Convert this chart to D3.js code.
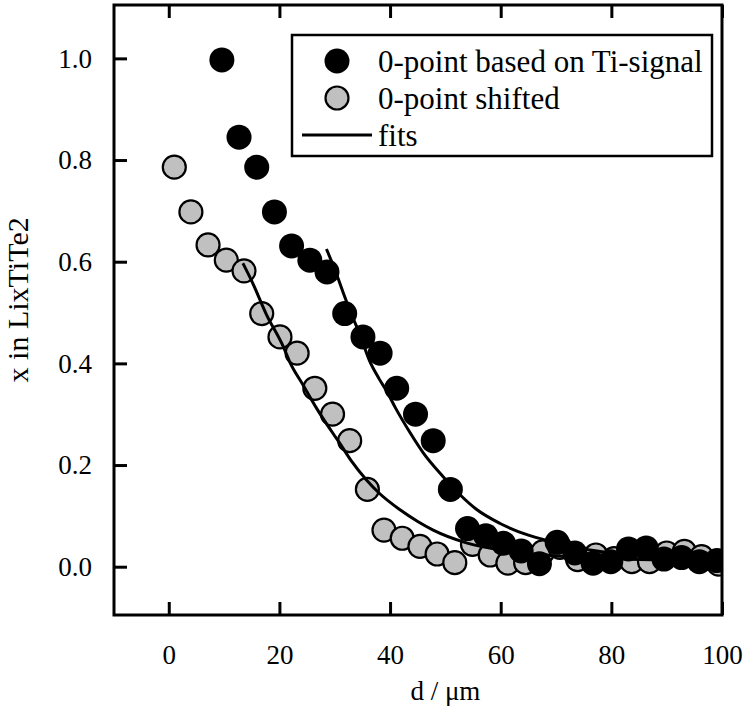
<!DOCTYPE html>
<html>
<head>
<meta charset="utf-8">
<script src="https://cdn.jsdelivr.net/npm/d3@7"></script>
<style>
  body { margin: 0; background: #fff; }
  svg text { font-family: 'Liberation Serif', 'Times New Roman', serif; fill: #000; }
</style>
</head>
<body>
<svg id="svgChart" width="745" height="711"></svg>
<script>
// measured data, d in um, x in LixTiTe2
const tiDepth = [9.6, 12.7, 15.9, 19.1, 22.2, 25.5, 28.6, 31.8, 35.1, 38.2, 41.2, 44.6, 47.8, 50.9,
  54.0, 57.3, 60.5, 63.7, 67.0, 70.2, 73.4, 76.7, 79.9, 83.1, 86.3, 89.5, 92.7, 95.9, 99.1];
const tiValue = [0.997, 0.845, 0.786, 0.698, 0.631, 0.603, 0.580, 0.498, 0.452, 0.420, 0.351, 0.300, 0.248, 0.152,
  0.075, 0.061, 0.046, 0.031, 0.006, 0.048, 0.027, 0.007, 0.010, 0.035, 0.037, 0.015, 0.018, 0.010, 0.012];

const shiftDepth = [1.0, 4.0, 7.1, 10.4, 13.6, 16.8, 20.1, 23.2, 26.4, 29.6, 32.7, 35.9, 38.9, 42.2, 45.4,
  48.5, 51.7, 54.9, 58.1, 61.3, 64.5, 67.6, 70.7, 73.9, 77.2, 80.5, 83.7, 86.9, 90.0, 93.2, 96.3, 99.4];
const shiftValue = [0.786, 0.698, 0.633, 0.603, 0.582, 0.498, 0.452, 0.420, 0.351, 0.300, 0.248, 0.152, 0.072, 0.056, 0.040,
  0.025, 0.008, 0.044, 0.023, 0.007, 0.008, 0.029, 0.038, 0.014, 0.023, 0.016, 0.010, 0.010, 0.027, 0.030, 0.020, 0.005];

const fitTiDepth = [28.5, 30, 31.5, 33, 34.5, 36.3, 38, 39.4, 41, 43.6, 46, 49.6, 52.6, 55.6, 59.9,
  65, 69, 74, 78, 85, 92, 100];
const fitTiValue = [0.625, 0.585, 0.540, 0.497, 0.458, 0.405, 0.370, 0.345, 0.312, 0.264, 0.224, 0.177, 0.142, 0.113, 0.085,
  0.062, 0.050, 0.037, 0.030, 0.022, 0.017, 0.013];

const fitShiftDepth = [13.4, 15, 17.7, 20.7, 21.9, 24.3, 26.7, 29.7, 30.9, 33, 35.7, 38, 41.8, 45, 47.8,
  53.8, 59.9, 66, 72, 80, 90, 100];
const fitShiftValue = [0.597, 0.562, 0.495, 0.433, 0.402, 0.357, 0.312, 0.262, 0.243, 0.208, 0.171, 0.145, 0.112, 0.089, 0.072,
  0.047, 0.033, 0.025, 0.020, 0.016, 0.013, 0.012];

const xTicks = [0, 20, 40, 60, 80, 100];
const yTicks = [0.0, 0.2, 0.4, 0.6, 0.8, 1.0];
const legendLabels = ["0-point based on Ti-signal", "0-point shifted", "fits"];

const chart = {};
chart.width = 745;
chart.height = 711;
chart.font = "'Liberation Serif', 'Times New Roman', serif";

chart.draw = () => {
  const svg = d3.select("#svgChart");
  const margin = {top: 5, right: 23, bottom: 96, left: 114};
  const iwidth = chart.width - margin.left - margin.right;
  const iheight = chart.height - margin.top - margin.bottom;

  const x = d3.scaleLinear().domain([-9.9, 100]).range([0, iwidth]);
  const y = d3.scaleLinear().domain([-0.095, 1.105]).range([iheight, 0]);

  const g = svg.append("g")
    .attr("transform", `translate(${margin.left}, ${margin.top})`);

  // clip the markers to the frame
  svg.append("defs").append("clipPath").attr("id", "plotClip")
    .append("rect").attr("x", 0).attr("y", 0).attr("width", iwidth).attr("height", iheight);

  const plot = g.append("g").attr("clip-path", "url(#plotClip)");

  const line = d3.line()
    .x(d => x(d[0]))
    .y(d => y(d[1]))
    .curve(d3.curveMonotoneX);

  const shiftPts = shiftDepth.map((d, i) => [d, shiftValue[i]]);
  const tiPts = tiDepth.map((d, i) => [d, tiValue[i]]);

  plot.selectAll("circle.shift")
    .data(shiftPts).enter()
    .append("circle")
      .attr("class", "shift")
      .attr("cx", d => x(d[0]))
      .attr("cy", d => y(d[1]))
      .attr("r", 11.5)
      .style("fill", "#c0c0c0")
      .style("stroke", "#000")
      .style("stroke-width", 2.2);

  plot.selectAll("circle.ti")
    .data(tiPts).enter()
    .append("circle")
      .attr("class", "ti")
      .attr("cx", d => x(d[0]))
      .attr("cy", d => y(d[1]))
      .attr("r", 12.5)
      .style("fill", "#000");

  plot.append("path")
    .attr("d", line(fitShiftDepth.map((d, i) => [d, fitShiftValue[i]])))
    .style("fill", "none")
    .style("stroke", "#000")
    .style("stroke-width", 3);

  plot.append("path")
    .attr("d", line(fitTiDepth.map((d, i) => [d, fitTiValue[i]])))
    .style("fill", "none")
    .style("stroke", "#000")
    .style("stroke-width", 3);

  // axes: inward ticks on bottom, top and left
  const tickLen = 13;
  const bottom = g.append("g").attr("transform", `translate(0, ${iheight})`)
    .call(d3.axisBottom(x).tickValues(xTicks).tickSizeInner(-tickLen).tickSizeOuter(0).tickPadding(30).tickFormat(d3.format("d")));
  const top = g.append("g")
    .call(d3.axisTop(x).tickValues(xTicks).tickSizeInner(-tickLen).tickSizeOuter(0).tickFormat(""));
  const left = g.append("g")
    .call(d3.axisLeft(y).tickValues(yTicks).tickSizeInner(-tickLen).tickSizeOuter(0).tickPadding(22).tickFormat(d3.format(".1f")));

  [bottom, top, left].forEach(a => {
    a.attr("font-family", chart.font).attr("font-size", 27);
    a.select(".domain").remove();
    a.selectAll(".tick line").style("stroke", "#000").style("stroke-width", 3);
    a.selectAll(".tick text").style("fill", "#000");
  });

  g.append("rect")
    .attr("width", iwidth)
    .attr("height", iheight)
    .style("fill", "none")
    .style("stroke", "#000")
    .style("stroke-width", 3);

  // axis titles
  g.append("text")
    .attr("x", x(50))
    .attr("y", iheight + 85)
    .style("text-anchor", "middle")
    .style("font-size", "27px")
    .text("d / \u03bcm");

  g.append("text")
    .attr("transform", "rotate(-90)")
    .attr("x", -y(0.525))
    .attr("y", -86)
    .style("text-anchor", "middle")
    .style("font-size", "30px")
    .text("x in LixTiTe2");

  // legend
  const lg = svg.append("g").attr("transform", "translate(292, 35)");
  lg.append("rect")
    .attr("width", 420)
    .attr("height", 121)
    .style("fill", "#fff")
    .style("stroke", "#000")
    .style("stroke-width", 2.5);
  lg.append("circle").attr("cx", 45).attr("cy", 26).attr("r", 12.5).style("fill", "#000");
  lg.append("circle").attr("cx", 45).attr("cy", 63).attr("r", 11.5)
    .style("fill", "#c0c0c0").style("stroke", "#000").style("stroke-width", 2.2);
  lg.append("line").attr("x1", 10).attr("x2", 80).attr("y1", 100).attr("y2", 100)
    .style("stroke", "#000").style("stroke-width", 3);
  lg.selectAll("text.lab")
    .data(legendLabels).enter()
    .append("text")
      .attr("class", "lab")
      .attr("x", 86)
      .attr("y", (d, i) => 26 + i * 37)
      .attr("dy", "0.35em")
      .style("font-size", "31px")
      .text(d => d);
};

chart.draw();
</script>
</body>
</html>
